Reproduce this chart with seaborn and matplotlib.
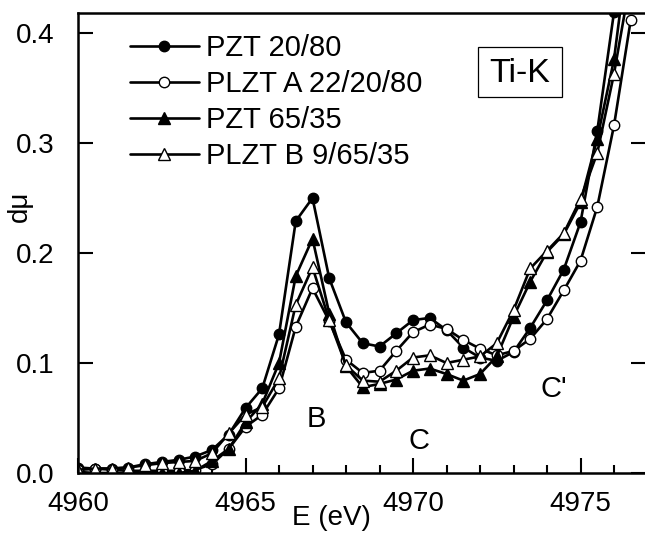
import matplotlib
matplotlib.use("Agg")
import matplotlib as mpl
from matplotlib import pyplot as plt
from matplotlib.patches import Rectangle
from matplotlib.ticker import MultipleLocator, FormatStrFormatter
import numpy as np
import pandas as pd
import seaborn as sns

# Photon energy (eV), one point every 0.5 eV
energy = [4960.0, 4960.5, 4961.0, 4961.5, 4962.0, 4962.5, 4963.0, 4963.5,
          4964.0, 4964.5, 4965.0, 4965.5, 4966.0, 4966.5, 4967.0, 4967.5,
          4968.0, 4968.5, 4969.0, 4969.5, 4970.0, 4970.5, 4971.0, 4971.5,
          4972.0, 4972.5, 4973.0, 4973.5, 4974.0, 4974.5, 4975.0, 4975.5,
          4976.0, 4976.5]

# d(mu) for each sample
pzt_2080 = [0.005, 0.004, 0.004, 0.005, 0.008, 0.010, 0.012, 0.015,
            0.021, 0.035, 0.059, 0.077, 0.126, 0.229, 0.250, 0.177,
            0.137, 0.118, 0.115, 0.127, 0.139, 0.141, 0.130, 0.114,
            0.105, 0.102, 0.110, 0.132, 0.157, 0.185, 0.228, 0.311,
            0.419, 0.560]
plzt_a = [0.003, 0.004, 0.003, 0.002, 0.002, 0.002, 0.002, 0.003,
          0.008, 0.022, 0.042, 0.053, 0.077, 0.133, 0.168, 0.138,
          0.103, 0.091, 0.093, 0.111, 0.128, 0.135, 0.131, 0.121,
          0.113, 0.107, 0.111, 0.122, 0.140, 0.166, 0.193, 0.242,
          0.316, 0.412]
pzt_6535 = [0.001, 0.000, 0.000, 0.000, 0.000, 0.000, 0.000, 0.002,
            0.011, 0.022, 0.046, 0.063, 0.100, 0.179, 0.213, 0.145,
            0.097, 0.078, 0.081, 0.085, 0.093, 0.095, 0.090, 0.084,
            0.090, 0.106, 0.142, 0.174, 0.201, 0.217, 0.246, 0.304,
            0.376, 0.495]
plzt_b = [0.003, 0.004, 0.004, 0.005, 0.007, 0.009, 0.010, 0.011,
          0.018, 0.036, 0.053, 0.060, 0.086, 0.153, 0.187, 0.139,
          0.098, 0.084, 0.083, 0.093, 0.105, 0.107, 0.100, 0.103,
          0.106, 0.118, 0.148, 0.186, 0.202, 0.218, 0.249, 0.291,
          0.363, 0.450]

labels = ["PZT 20/80", "PLZT A 22/20/80", "PZT 65/35", "PLZT B 9/65/35"]
markers = ["o", "o", "^", "^"]
faces = ["black", "white", "black", "white"]
msizes = [7.5, 7.5, 8.5, 8.5]

sns.set_style("ticks", {"axes.edgecolor": "black", "text.color": "black",
                        "xtick.color": "black", "ytick.color": "black",
                        "axes.labelcolor": "black"})
plt.rcParams['font.family'] = ['Liberation Sans', 'DejaVu Sans']

fig = plt.figure(figsize=(6.45, 5.33), dpi=100)
ax = fig.add_axes([78 / 645, 1 - 473 / 533, 567.5 / 645, 460.3 / 533])

series = [pzt_2080, plzt_a, pzt_6535, plzt_b]
for vals, lab, mk, fc, ms in zip(series, labels, markers, faces, msizes):
    df = pd.DataFrame({"E": energy, "dmu": vals})
    sns.lineplot(data=df, x="E", y="dmu", ax=ax, color="black", linewidth=1.9,
                 marker=mk, markersize=ms, markerfacecolor=fc,
                 markeredgecolor="black", markeredgewidth=1.0,
                 errorbar=None, label=lab, legend=False)

ax.set_xlim(4960, 4976.94)
ax.set_ylim(0, 0.4185)

# Ticks
ax.xaxis.set_major_locator(MultipleLocator(5))
ax.xaxis.set_minor_locator(MultipleLocator(1))
ax.xaxis.set_major_formatter(FormatStrFormatter('%d'))
ax.yaxis.set_major_locator(MultipleLocator(0.1))
ax.yaxis.set_major_formatter(FormatStrFormatter('%.1f'))
ax.tick_params(axis='x', which='major', direction='in', length=11, width=1.5,
               pad=13, labelsize=20)
ax.tick_params(axis='x', which='minor', direction='in', length=6, width=1.5)
ax.tick_params(axis='y', which='major', direction='in', length=11, width=1.5,
               pad=17, labelsize=20, right=True)
for sp in ax.spines.values():
    sp.set_linewidth(1.8)
    sp.set_color("black")

# Axis labels
ax.set_xlabel("E (eV)", fontsize=20)
ax.xaxis.set_label_coords(0.446, -0.097)
ax.xaxis.label.set_verticalalignment('center')
ax.set_ylabel("dμ", fontsize=20)
ax.yaxis.set_label_coords(-0.103, 0.58)
ax.yaxis.label.set_verticalalignment('center')

# Legend
ax.legend(loc='upper left', bbox_to_anchor=(0.0916, 0.953), frameon=False,
          fontsize=21, handlelength=2.35, handletextpad=0.25,
          labelspacing=0.27, borderpad=0, borderaxespad=0, numpoints=1)

# Edge label box
ax.add_patch(Rectangle((0.7048, 0.8162), 0.8529 - 0.7048, 0.9261 - 0.8162,
                       transform=ax.transAxes, fill=False, edgecolor='black',
                       linewidth=0.9))
ax.text(0.779, 0.850, "Ti-K", transform=ax.transAxes, fontsize=24.5,
        ha='center', va='baseline')

# Feature labels
ax.text(4967.10, 0.042, "B", fontsize=21, ha='center', va='baseline')
ax.text(4970.17, 0.022, "C", fontsize=21, ha='center', va='baseline')
ax.text(4974.2, 0.069, "C'", fontsize=21, ha='center', va='baseline')

fig.savefig("out.png", dpi=100)
